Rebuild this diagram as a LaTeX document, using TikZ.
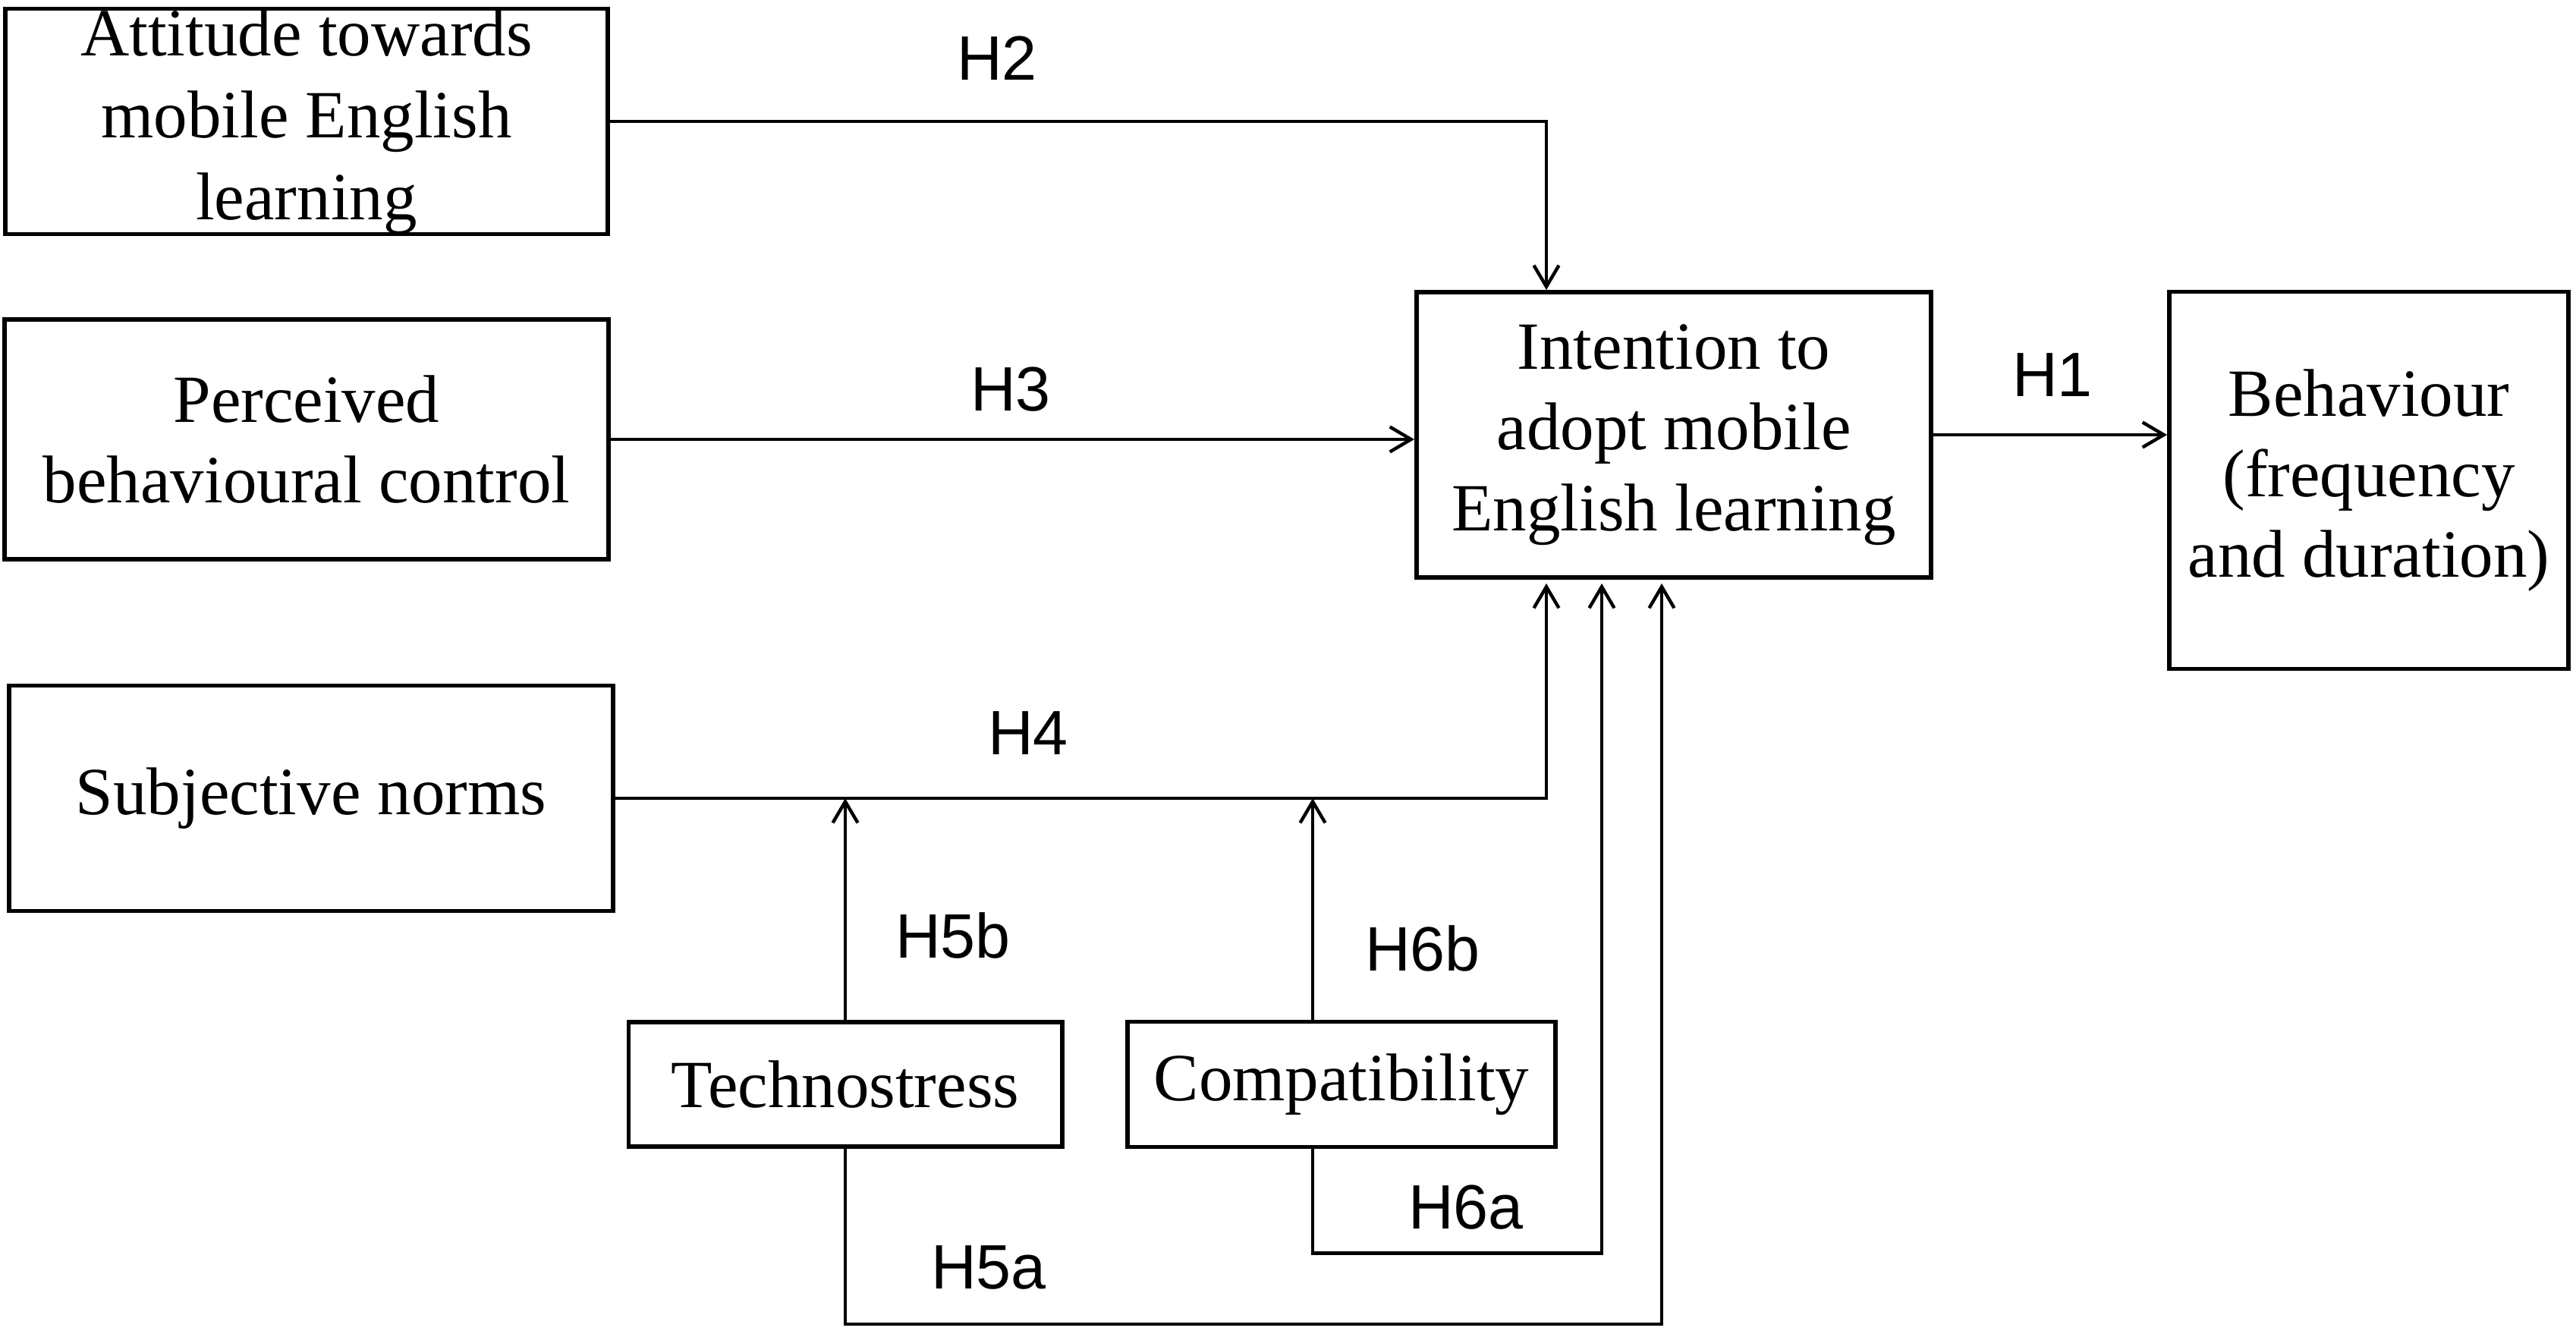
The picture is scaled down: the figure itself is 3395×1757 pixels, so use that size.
\documentclass[tikz,border=0pt]{standalone}
\usepackage{fontspec}
\setmainfont{Liberation Serif}
\setsansfont{Liberation Sans}
\usepackage{tikz}
\usetikzlibrary{positioning,calc,arrows.meta}

\begin{document}
\begin{tikzpicture}[x=0.01cm,y=-0.01cm,
		box/.style={draw,line width=1.6pt,align=center,inner sep=0pt,font=\fontsize{25.3}{30.2}\selectfont},
		conn/.style={line width=1.25pt,-{Straight Barb[length=0.28cm,width=0.33cm]}},
		hyp/.style={font=\sffamily\fontsize{23.5}{28}\selectfont}]
			\useasboundingbox (0,0) rectangle (3395,1757);
			
			\node[box,minimum width=7.94cm,minimum height=2.95cm,font=\fontsize{25.3}{30.7}\selectfont] (att) at (404,160) {Attitude towards\\mobile English\\learning};
			\node[box,minimum width=7.95cm,minimum height=3.16cm] (pbc) at (404,579) {Perceived\\behavioural control};
			\node[box,minimum width=7.96cm,minimum height=2.97cm] (sn) at (410,1052) {Subjective norms};
			\node[box,minimum width=6.78cm,minimum height=3.76cm] (int) at (2206,573) {Intention to\\adopt mobile\\English learning};
			\node[box,minimum width=5.26cm,minimum height=4.97cm] (beh) at (3122,633) {Behaviour\\(frequency\\and duration)};
			\node[box,minimum width=5.71cm,minimum height=1.64cm] (tec) at (1114,1429) {Technostress};
			\node[box,minimum width=5.64cm,minimum height=1.65cm] (com) at (1768,1429) {Compatibility};
			
			\coordinate (c6n) at ($(com.north west)+(247,0)$);
			\coordinate (c6s) at ($(com.south west)+(247,0)$);
			
			\draw[conn] (att.east) -| ($(int.north west)+(174,0)$);
			\draw[conn] (pbc.east) -- (pbc.east -| int.west);
			\draw[conn] (int.east) -- (int.east -| beh.west);
			\draw[conn,shorten >=0.5mm] (sn.east) -| ($(int.south west)+(174,0)$);
			\draw[conn] (tec.north) -- (tec.north |- sn.east);
			\draw[conn] (c6n) -- (c6n |- sn.east);
			\draw[conn,shorten >=0.5mm] (c6s) -- ++(0,137) -| ($(int.south west)+(247,0)$);
			\draw[conn,shorten >=0.5mm] (tec.south) -- ++(0,231) -| ($(int.south west)+(326,0)$);
			
			\node[hyp] (h1) at (2705,494) {H1};
			\node[hyp] (h2) at (1314,77) {H2};
			\node[hyp] (h3) at (1332,513) {H3};
			\node[hyp] (h4) at (1355,966) {H4};
			\node[hyp] (h5a) at (1303,1670) {H5a};
			\node[hyp] (h5b) at (1256,1233) {H5b};
			\node[hyp] (h6a) at (1932,1591) {H6a};
			\node[hyp] (h6b) at (1875,1250) {H6b};
		\end{tikzpicture}
\end{document}
